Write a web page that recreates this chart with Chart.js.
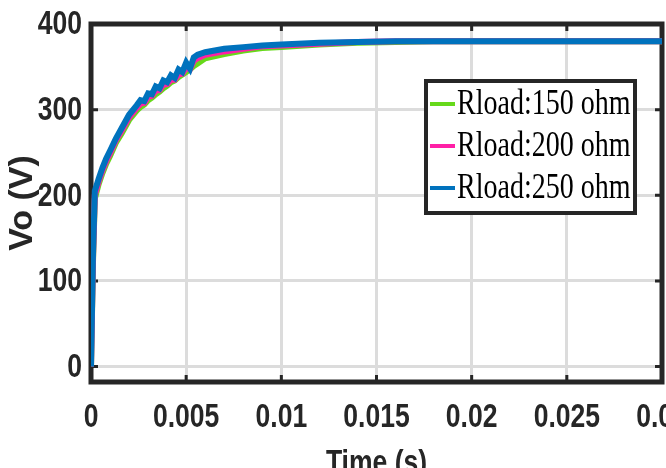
<!DOCTYPE html>
<html>
<head>
<meta charset="utf-8">
<script src="https://cdn.jsdelivr.net/npm/chart.js@4.4.0/dist/chart.umd.min.js"></script>
<style>
  html, body { margin: 0; padding: 0; background: #fff; overflow: hidden; }
  #wrap { width: 720px; height: 500px; }
</style>
</head>
<body>
<div id="wrap"><canvas id="voChart"></canvas></div>
<script>
// Vo step response for three load resistances

const timeS = [0, 0.0001, 0.0002, 0.0004, 0.0006, 0.0008, 0.001, 0.0013, 0.0016, 0.002,
  0.0024, 0.0026, 0.0028, 0.003, 0.0032, 0.0034, 0.0036, 0.0038, 0.004, 0.0042,
  0.0044, 0.0046, 0.0048, 0.005, 0.0052, 0.0054, 0.0056, 0.006, 0.007, 0.008,
  0.009, 0.01, 0.012, 0.014, 0.016, 0.018, 0.02, 0.025, 0.03];

const vo150 = [0, 118, 196, 213, 226, 237, 246, 261, 272, 288,
  299, 303, 306, 311, 314, 318, 321, 325, 328, 332,
  334, 338, 341, 344, 347, 351, 354, 360, 365, 369,
  372, 373, 376, 378, 379, 380, 380, 380, 380];

const vo200 = [0, 123, 200, 216, 229, 240, 249, 264, 275, 291,
  302, 307, 308, 315, 316, 322, 323, 329, 330, 335,
  335, 341, 342, 349, 347, 357, 360, 364, 368, 371,
  374, 375, 377, 379, 380, 380, 380, 380, 380];

const vo250 = [0, 128, 205, 219, 232, 243, 252, 266, 278, 294,
  305, 311, 310, 319, 318, 327, 325, 334, 332, 340,
  337, 347, 344, 355, 348, 361, 364, 367, 371, 373,
  375, 376, 378, 379, 380, 380, 380, 380, 380];

const seriesLabels = ['Rload:150 ohm', 'Rload:200 ohm', 'Rload:250 ohm'];
const seriesColors = ['#66d91a', '#ff1fa6', '#0072bd'];
const xTicks = [0, 0.005, 0.01, 0.015, 0.02, 0.025, 0.03];
const yTicks = [0, 100, 200, 300, 400];
const xTitle = 'Time (s)';
const yTitle = 'Vo (V)';

const SANS = "'Liberation Sans', Arial, sans-serif";
const INK = '#262626';
const SQUASH = 0.78; // the source figure is stretched vertically, text looks narrow

const toPoints = (vals) => vals.map((v, i) => ({ x: timeS[i], y: v }));

// thick box + inward ticks, like the matlab axes
const boxPlugin = {
  id: 'box',
  beforeDatasetsDraw(chart) {
    const { ctx, chartArea: a, scales } = chart;
    ctx.save();
    ctx.strokeStyle = INK;
    ctx.lineWidth = 3;
    xTicks.forEach(t => {
      const px = scales.x.getPixelForValue(t);
      ctx.beginPath();
      ctx.moveTo(px, a.bottom); ctx.lineTo(px, a.bottom - 7);
      ctx.moveTo(px, a.top); ctx.lineTo(px, a.top + 7);
      ctx.stroke();
    });
    yTicks.forEach(v => {
      const py = scales.y.getPixelForValue(v);
      ctx.beginPath();
      ctx.moveTo(a.left, py); ctx.lineTo(a.left + 7, py);
      ctx.moveTo(a.right, py); ctx.lineTo(a.right - 7, py);
      ctx.stroke();
    });
    ctx.lineWidth = 5;
    ctx.strokeRect(a.left, a.top, a.right - a.left, a.bottom - a.top);
    ctx.restore();
  }
};

const narrowText = (ctx, text, x, y, align, sx) => {
  ctx.save();
  ctx.translate(x, y);
  ctx.scale(sx, 1);
  ctx.textAlign = align;
  ctx.fillText(text, 0, 0);
  ctx.restore();
};

// tick labels and titles, drawn narrow
const labelPlugin = {
  id: 'narrowLabels',
  afterDraw(chart) {
    const { ctx, chartArea: a, scales } = chart;
    ctx.save();
    ctx.fillStyle = INK;
    ctx.textBaseline = 'middle';
    ctx.font = 'bold 34px ' + SANS;
    xTicks.forEach(t => {
      narrowText(ctx, String(t), scales.x.getPixelForValue(t), 418, 'center', SQUASH);
    });
    yTicks.forEach(v => {
      narrowText(ctx, String(v), a.left - 9, scales.y.getPixelForValue(v) + 1, 'right', SQUASH);
    });
    narrowText(ctx, xTitle, (a.left + a.right) / 2, 464, 'center', SQUASH);
    ctx.translate(23, 203);
    ctx.rotate(-Math.PI / 2);
    ctx.textAlign = 'center';
    ctx.font = 'bold 34px ' + SANS;
    ctx.fillText(yTitle, 0, 0);
    ctx.restore();
  }
};

// legend box inside the axes
const legendPlugin = {
  id: 'boxLegend',
  afterDraw(chart) {
    const { ctx } = chart;
    const x0 = 426, y0 = 81, w = 209, h = 132;
    ctx.save();
    ctx.fillStyle = '#fff';
    ctx.fillRect(x0, y0, w, h);
    ctx.strokeStyle = INK;
    ctx.lineWidth = 4;
    ctx.strokeRect(x0, y0, w, h);
    ctx.font = "35px 'Liberation Serif', 'DejaVu Serif', serif";
    ctx.textBaseline = 'middle';
    chart.data.datasets.forEach((ds, i) => {
      const cy = y0 + 23 + i * 42;
      ctx.strokeStyle = ds.borderColor;
      ctx.lineWidth = 4;
      ctx.beginPath();
      ctx.moveTo(x0 + 4, cy); ctx.lineTo(x0 + 29, cy);
      ctx.stroke();
      ctx.fillStyle = '#000';
      narrowText(ctx, ds.label, x0 + 31, cy + 1, 'left', 0.8);
    });
    ctx.restore();
  }
};

const ctx = document.getElementById('voChart').getContext('2d');
new Chart(ctx, {
  type: 'line',
  data: {
    datasets: [vo150, vo200, vo250].map((vals, i) => ({
      label: seriesLabels[i],
      data: toPoints(vals),
      borderColor: seriesColors[i],
      backgroundColor: seriesColors[i],
      borderWidth: 6,
      pointRadius: 0,
      tension: 0,
      fill: false,
      order: 2 - i // 250 ohm drawn on top
    }))
  },
  options: {
    responsive: true,
    maintainAspectRatio: false,
    animation: false,
    layout: { padding: { left: 0, right: 58, top: 24, bottom: 0 } },
    scales: {
      x: {
        type: 'linear',
        min: 0, max: 0.03,
        afterBuildTicks: (s) => { s.ticks = xTicks.map(v => ({ value: v })); },
        afterFit: (s) => { s.height = 118; },
        grid: { color: '#dcdcdc', lineWidth: 3, drawTicks: false },
        border: { display: false },
        ticks: { display: false }
      },
      y: {
        min: -18, max: 400,
        afterBuildTicks: (s) => { s.ticks = yTicks.map(v => ({ value: v })); },
        afterFit: (s) => { s.width = 91; },
        grid: { color: '#dcdcdc', lineWidth: 3, drawTicks: false },
        border: { display: false },
        ticks: { display: false }
      }
    },
    plugins: {
      legend: { display: false },
      tooltip: { enabled: false }
    }
  },
  plugins: [boxPlugin, labelPlugin, legendPlugin]
});
</script>
</body>
</html>
